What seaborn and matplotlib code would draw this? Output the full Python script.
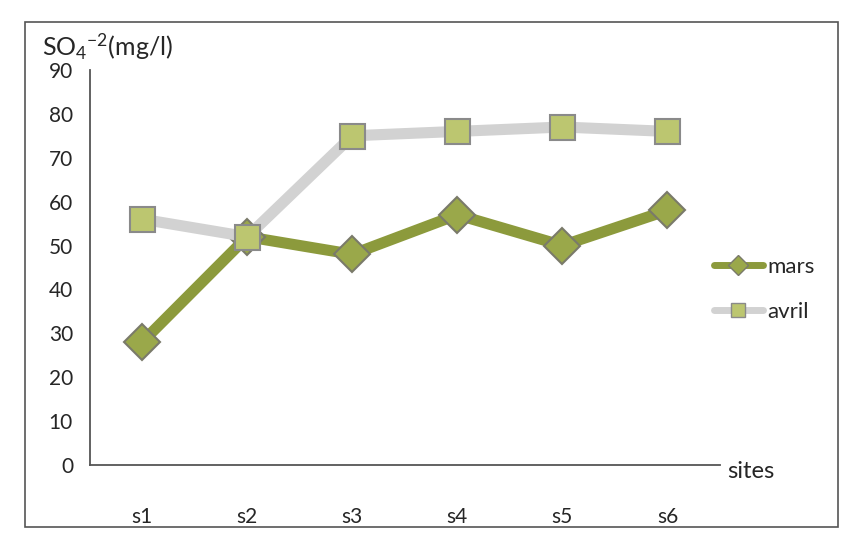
import matplotlib
matplotlib.use("Agg")
import matplotlib.pyplot as plt
from matplotlib.patches import Rectangle
from matplotlib.lines import Line2D
import seaborn as sns
import pandas as pd

# values (SO4 in mg/l)
sites = ["s1", "s2", "s3", "s4", "s5", "s6"]
mars = [28, 52, 48, 57, 50, 58]
avril = [56, 52, 75, 76, 77, 76]
y_ticks = [0, 10, 20, 30, 40, 50, 60, 70, 80, 90]

df = pd.DataFrame({
    "site": sites * 2,
    "pos": list(range(len(sites))) * 2,
    "value": mars + avril,
    "month": ["mars"] * len(sites) + ["avril"] * len(sites),
})

sns.set_style("white")
plt.rcParams["font.family"] = ["Lato", "DejaVu Sans"]
plt.rcParams["mathtext.fontset"] = "custom"
plt.rcParams["mathtext.rm"] = "Lato"
plt.rcParams["mathtext.it"] = "Lato:italic"

fig = plt.figure(figsize=(8.46, 5.36), dpi=100)
ax = fig.add_axes([0.106, 0.1325, 0.745, 0.737])

# outer chart border like the Excel frame
fig.patches.append(Rectangle((0.03, 0.017), 0.96, 0.942, transform=fig.transFigure,
                             fill=False, edgecolor="#555555", linewidth=1.2))

line_colors = {"mars": "#8c9a3c", "avril": "#d2d2d2"}
sns.lineplot(data=df, x="pos", y="value", hue="month", style="month",
             markers={"mars": "D", "avril": "s"}, dashes=False,
             palette=line_colors, linewidth=8, markersize=18, ax=ax,
             legend=False)

# marker colors
for i, ln in enumerate(ax.get_lines()):
    if i == 0:
        ln.set_markerfacecolor("#9aa84a")
        ln.set_markeredgecolor("#7a7a6a")
    else:
        ln.set_markerfacecolor("#bcc670")
        ln.set_markeredgecolor("#8a8a8a")
    ln.set_markeredgewidth(1.5)

ax.set_xlim(-0.5, len(sites) - 0.5)
ax.set_ylim(0, 90)
ax.set_yticks(y_ticks)
ax.set_xticks(range(len(sites)))
ax.set_xticklabels(sites)
ax.set_xticks([i + 0.5 for i in range(len(sites))], minor=True)
ax.tick_params(axis="x", which="major", length=0, pad=30, labelsize=15)
ax.tick_params(axis="x", which="minor", length=7, color="#777777", direction="out")
ax.tick_params(axis="y", length=5, color="#777777", direction="out", labelsize=15, pad=7)
ax.set_xlabel("")
ax.set_ylabel("")

for side in ["top", "right"]:
    ax.spines[side].set_visible(False)
for side in ["left", "bottom"]:
    ax.spines[side].set_color("#555555")
    ax.spines[side].set_linewidth(1.3)

fig.text(0.05, 0.912, r"SO$_4$$^{-2}$(mg/l)", fontsize=18, va="center")
fig.text(0.86, 0.12, "sites", fontsize=17, va="center")

# legend
handles = [
    Line2D([], [], color=line_colors["mars"], lw=5, marker="D", markersize=10,
           markerfacecolor="#9aa84a", markeredgecolor="#7a7a6a"),
    Line2D([], [], color=line_colors["avril"], lw=5, marker="s", markersize=10,
           markerfacecolor="#bcc670", markeredgecolor="#8a8a8a"),
]
fig.legend(handles, ["mars", "avril"], loc="center left",
           bbox_to_anchor=(0.82, 0.46), frameon=False, fontsize=16,
           handlelength=2.2, handletextpad=0.2, labelspacing=1.1)

fig.savefig("out.png", dpi=100)
